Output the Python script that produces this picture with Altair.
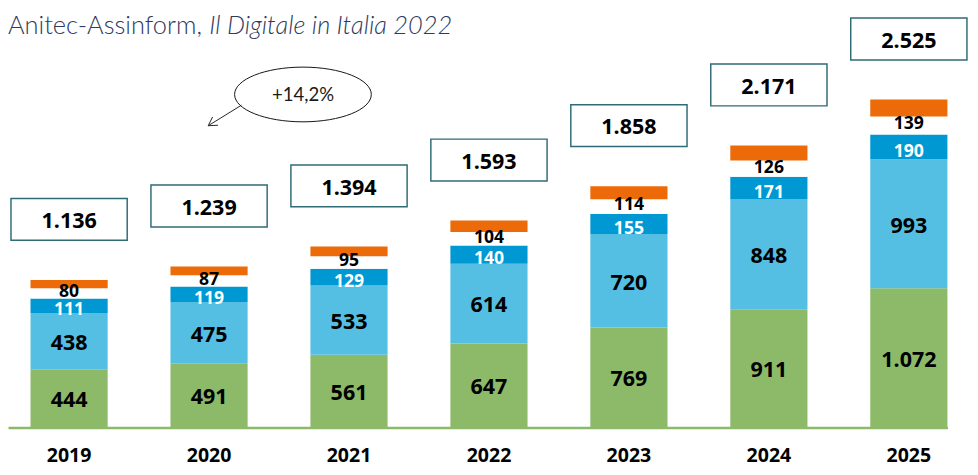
import altair as alt
import pandas as pd

# ---- data ----
years = ["2019", "2020", "2021", "2022", "2023", "2024", "2025"]
green_vals = [444, 491, 561, 647, 769, 911, 1072]
lightblue_vals = [438, 475, 533, 614, 720, 848, 993]
darkblue_vals = [111, 119, 129, 140, 155, 171, 190]
white_vals = [80, 87, 95, 104, 114, 126, 139]
orange_vals = [63, 67, 76, 88, 100, 115, 131]
totals = [1136, 1239, 1394, 1593, 1858, 2171, 2525]

series_names = ["s1", "s2", "s3", "s4", "s5"]
series_values = [green_vals, lightblue_vals, darkblue_vals, white_vals, orange_vals]
series_colors = ["#8cba69", "#55bfe3", "#0098d3", "#ffffff", "#ec6a07"]
label_white = [False, False, True, False, False]
show_label = [True, True, True, True, False]

callout_text = "+14,2%"
title_a = "Anitec-Assinform,"
title_b = "Il Digitale in Italia 2022"


def it_fmt(v):
    return f"{v:,}".replace(",", ".")


rows = []
for i, yr in enumerate(years):
    acc = 0
    for k, name in enumerate(series_names):
        v = series_values[k][i]
        rows.append(dict(year=yr, serie=name, ord=k, value=v, v0=acc, v1=acc + v,
                         mid=acc + v / 2,
                         label=it_fmt(v) if show_label[k] else "",
                         white=1 if label_white[k] else 0))
        acc += v
seg = pd.DataFrame(rows)
tot = pd.DataFrame(dict(year=years, total=totals, label=[it_fmt(t) for t in totals]))
lab_big = seg[seg["ord"] < 2].reset_index(drop=True)
lab_white = seg[(seg["label"] != "") & (seg["white"] == 1)].reset_index(drop=True)
lab_small = seg[seg["ord"] == 3].reset_index(drop=True)

W, H = 962, 422
NUM_FONT = "Open Sans"

xscale = alt.Scale(domain=years, paddingInner=0.447, paddingOuter=0.08, align=1)
yscale = alt.Scale(domain=[0, 3173], nice=False, zero=True)

x_axis = alt.Axis(title=None, domain=True, domainColor="#8cba69", domainWidth=2.5,
                  ticks=False, labelAngle=0, labelFont=NUM_FONT, labelFontSize=20,
                  labelFontWeight="bold", labelColor="#000000", labelPadding=19)


def X():
    return alt.X("year:N", scale=xscale, sort=years, axis=x_axis)


def Y(field):
    return alt.Y(field, scale=yscale, axis=None)


bars = alt.Chart(seg).mark_bar(size=79).encode(
    x=X(), y=Y("v0:Q"), y2="v1:Q",
    color=alt.Color("serie:N", scale=alt.Scale(domain=series_names, range=series_colors), legend=None),
)

labels_big = alt.Chart(lab_big).mark_text(
    font=NUM_FONT, fontSize=22, fontWeight="bold", baseline="middle", align="center", dy=2,
    color="#000000"
).encode(x=X(), y=Y("mid:Q"), text="label:N")

labels_white = alt.Chart(lab_white).mark_text(
    font=NUM_FONT, fontSize=18, fontWeight="bold", baseline="middle", align="center", dy=5,
    color="#ffffff"
).encode(x=X(), y=Y("mid:Q"), text="label:N")

labels_small = alt.Chart(lab_small).mark_text(
    font=NUM_FONT, fontSize=18, fontWeight="bold", baseline="middle", align="center", dy=-1,
    color="#000000"
).encode(x=X(), y=Y("mid:Q"), text="label:N")

box_path = "M-1,-0.36L1,-0.36L1,0.36L-1,0.36Z"
boxes = alt.Chart(tot).mark_point(
    shape=box_path, size=119 * 119, filled=True, fill="#ffffff", stroke="#2f6b75",
    strokeWidth=1.5, opacity=1, yOffset=-62
).encode(x=X(), y=Y("total:Q"))

tot_text = alt.Chart(tot).mark_text(
    font=NUM_FONT, fontSize=22, fontWeight="bold", color="#000000",
    baseline="middle", yOffset=-60
).encode(x=X(), y=Y("total:Q"), text="label:N")

ellipse_path = ("M1,0C1,0.2209,0.5523,0.4,0,0.4C-0.5523,0.4,-1,0.2209,-1,0"
                "C-1,-0.2209,-0.5523,-0.4,0,-0.4C0.5523,-0.4,1,-0.2209,1,0Z")
arrow_path = "M0.85,-0.525L-0.85,0.525M-0.35,0.5L-0.85,0.525L-0.625,0.075"

ann = pd.DataFrame({"t": [callout_text]})
ellipse = alt.Chart(ann).mark_point(
    shape=ellipse_path, size=140 * 140, filled=False, stroke="#111111",
    strokeWidth=1, opacity=1
).encode(x=alt.value(302), y=alt.value(81))
arrow = alt.Chart(ann).mark_point(
    shape=arrow_path, size=40 * 40, filled=False, stroke="#222222",
    strokeWidth=1, opacity=1
).encode(x=alt.value(222), y=alt.value(102.5))
ell_text = alt.Chart(ann).mark_text(
    font="Lato", fontSize=19, fontWeight=400, color="#1a1a1a", baseline="middle"
).encode(x=alt.value(302), y=alt.value(82), text="t:N")

title_df = pd.DataFrame({"a": [title_a], "b": [title_b]})
t1 = alt.Chart(title_df).mark_text(
    font="Lato", fontSize=26, fontWeight=300, color="#2e3a60", align="left", baseline="alphabetic"
).encode(x=alt.value(0), y=alt.value(19), text="a:N")
t2 = alt.Chart(title_df).mark_text(
    font="Lato", fontSize=26, fontWeight=300, fontStyle="italic", color="#2e3a60",
    align="left", baseline="alphabetic"
).encode(x=alt.value(206), y=alt.value(19), text="b:N")

chart = alt.layer(
    bars, labels_big, labels_white, labels_small, boxes, tot_text, ellipse, arrow, ell_text, t1, t2
).properties(
    width=W, height=H, padding=0
).configure_view(stroke=None)

chart.save("out.html", embed_options={"renderer": "svg", "actions": False})
